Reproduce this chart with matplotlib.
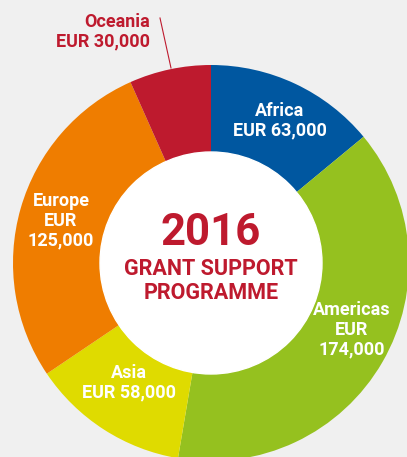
import matplotlib.pyplot as plt
from matplotlib.patches import Circle

# grant support 2016 by region (EUR)
regions = ["Africa", "Americas", "Asia", "Europe", "Oceania"]
amounts = [63000, 174000, 58000, 125000, 30000]
colors = ["#0057a0", "#95c11f", "#dfdb00", "#ef7d00", "#be1a2e"]
labels = ["Africa\nEUR 63,000", "Americas\nEUR\n174,000", "Asia\nEUR 58,000",
          "Europe\nEUR\n125,000", "Oceania\nEUR 30,000"]

red = "#be1a2e"
bg = "#f0f0f0"

fig = plt.figure(figsize=(4.07, 4.57), dpi=100, facecolor=bg)
ax = fig.add_axes([0, 0, 1, 1])

cx, cy = 211, 457 - 263
r_out, r_in = 198, 111

ax.pie(amounts, colors=colors, startangle=90, counterclock=False,
       center=(cx, cy), radius=r_out, frame=True,
       wedgeprops=dict(linewidth=0))
ax.set_xlim(0, 407)
ax.set_ylim(0, 457)
ax.axis("off")
ax.add_patch(Circle((cx, cy), r_in, color="white", zorder=3))

font = "Roboto"
# slice labels (positions in pixel space, y from top)
label_pos = [(280, 121), (352, 330), (129, 383), (61, 221)]
for lab, (x, y) in zip(labels[:4], label_pos):
    ax.text(x, 457 - y, lab, color="white", ha="center", va="center",
            fontsize=13, fontweight="bold", family=font, linespacing=1.12,
            zorder=4)

ax.text(150, 457 - 32, labels[4], color=red, ha="right", va="center",
        fontsize=13, fontweight="bold", family=font, linespacing=1.12)
ax.plot([160, 171], [457 - 18, 457 - 68], color=red, lw=0.8)

ax.text(211, 457 - 233, "2016", color=red, ha="center", va="center",
        fontsize=31.5, fontweight="bold", family=font, zorder=4)
ax.text(211, 457 - 281, "GRANT SUPPORT\nPROGRAMME", color=red, ha="center",
        va="center", fontsize=15.5, fontweight="bold", family=font,
        linespacing=1.08, zorder=4)

fig.savefig("out.png", dpi=100, facecolor=bg)
